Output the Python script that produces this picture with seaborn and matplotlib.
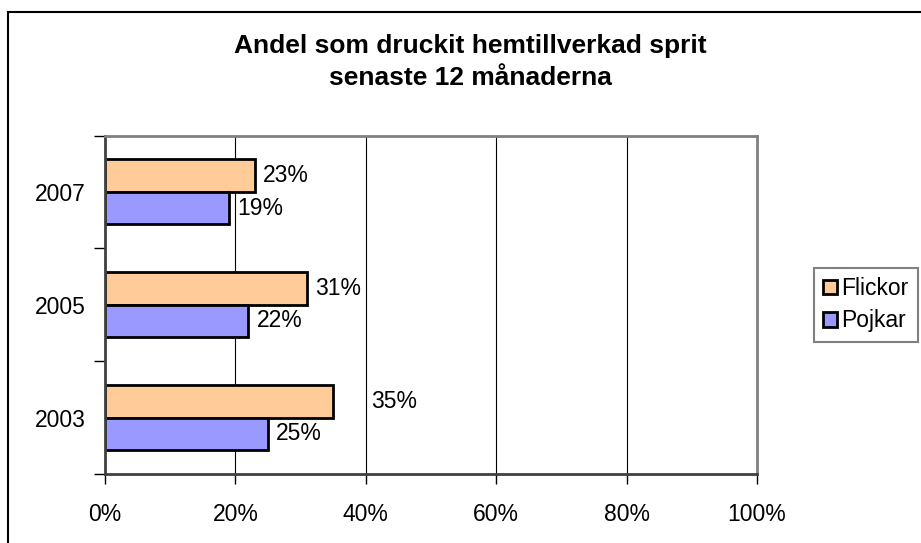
"""Andel som druckit hemtillverkad sprit - liggande stapeldiagram."""

import matplotlib

matplotlib.use("Agg")
import matplotlib.pyplot as plt
from matplotlib.patches import Rectangle
import pandas as pd
import seaborn as sns

years = ["2007", "2005", "2003"]
flickor = [23, 31, 35]
pojkar = [19, 22, 25]
groups = ["Flickor", "Pojkar"]
x_ticks = [0, 20, 40, 60, 80, 100]
x_labels = ["0%", "20%", "40%", "60%", "80%", "100%"]
title = "Andel som druckit hemtillverkad sprit\nsenaste 12 månaderna"

df = pd.DataFrame(
    {
        "year": years * 2,
        "value": flickor + pojkar,
        "group": ["Flickor"] * len(years) + ["Pojkar"] * len(years),
    }
)

sns.set_style("white")
plt.rcParams["font.family"] = ["Liberation Sans", "DejaVu Sans"]
plt.rcParams["text.color"] = "black"
plt.rcParams["xtick.color"] = "black"
plt.rcParams["ytick.color"] = "black"

fig = plt.figure(figsize=(9.21, 5.43), dpi=100)
ax = fig.add_axes([105 / 921, 1 - 474 / 543, 652 / 921, 338.5 / 543])

sns.barplot(
    data=df,
    x="value",
    y="year",
    hue="group",
    hue_order=groups,
    order=years,
    orient="h",
    palette=["#FFCC99", "#9999FF"],
    edgecolor="black",
    linewidth=2,
    width=0.575,
    saturation=1,
    ax=ax,
)

# etiketter, 35% hamnar längre ut som i originalet
pads = {35: 38}
for cont in ax.containers:
    for bar in cont:
        v = bar.get_width()
        ax.annotate(
            f"{v:.0f}%",
            (v, bar.get_y() + bar.get_height() / 2),
            xytext=(pads.get(round(v), 8) * 0.72, 0),
            textcoords="offset points",
            va="center",
            ha="left",
            fontsize=16.5,
            color="black",
        )

ax.set_xlim(0, 100)
ax.set_ylim(2.5, -0.5)
ax.set_xticks(x_ticks)
ax.set_xticklabels(x_labels, fontsize=16.5)
ax.set_xlabel("")
ax.set_ylabel("")
ax.tick_params(axis="x", bottom=True, direction="out", length=7, width=1, pad=14)
ax.tick_params(axis="y", which="major", left=True, length=0, pad=14, labelsize=16.5)
ax.set_yticks([-0.5, 0.5, 1.5, 2.5], minor=True)
ax.tick_params(axis="y", which="minor", left=True, direction="out", length=8, width=1)
for x in x_ticks[1:-1]:
    ax.axvline(x, color="black", lw=0.8, zorder=0)
for side in ["top", "right", "left", "bottom"]:
    ax.spines[side].set_visible(True)
    ax.spines[side].set_color("#808080")
    ax.spines[side].set_linewidth(2)
ax.spines["left"].set_color("#404040")
ax.spines["bottom"].set_color("#404040")

handles, labels = ax.get_legend_handles_labels()
ax.get_legend().remove()
leg = fig.legend(
    handles,
    labels,
    loc="upper left",
    bbox_to_anchor=(814 / 921, 1 - 268 / 543),
    fontsize=16.5,
    frameon=True,
    fancybox=False,
    framealpha=1,
    edgecolor="#808080",
    handlelength=0.6,
    handleheight=0.6,
    handletextpad=0.2,
    borderaxespad=0,
    borderpad=0.4,
    labelspacing=0.4,
)
leg.get_frame().set_linewidth(1.5)

fig.text(470 / 921, 1 - 62 / 543, title, ha="center", va="center",
         fontsize=19, fontweight="bold", linespacing=1.4)

fig.add_artist(
    Rectangle((8 / 921, -0.1), 1.2, 1 - 12 / 543 + 0.1, transform=fig.transFigure,
              fill=False, edgecolor="black", lw=1.5)
)

plt.savefig("out.png", dpi=100)
